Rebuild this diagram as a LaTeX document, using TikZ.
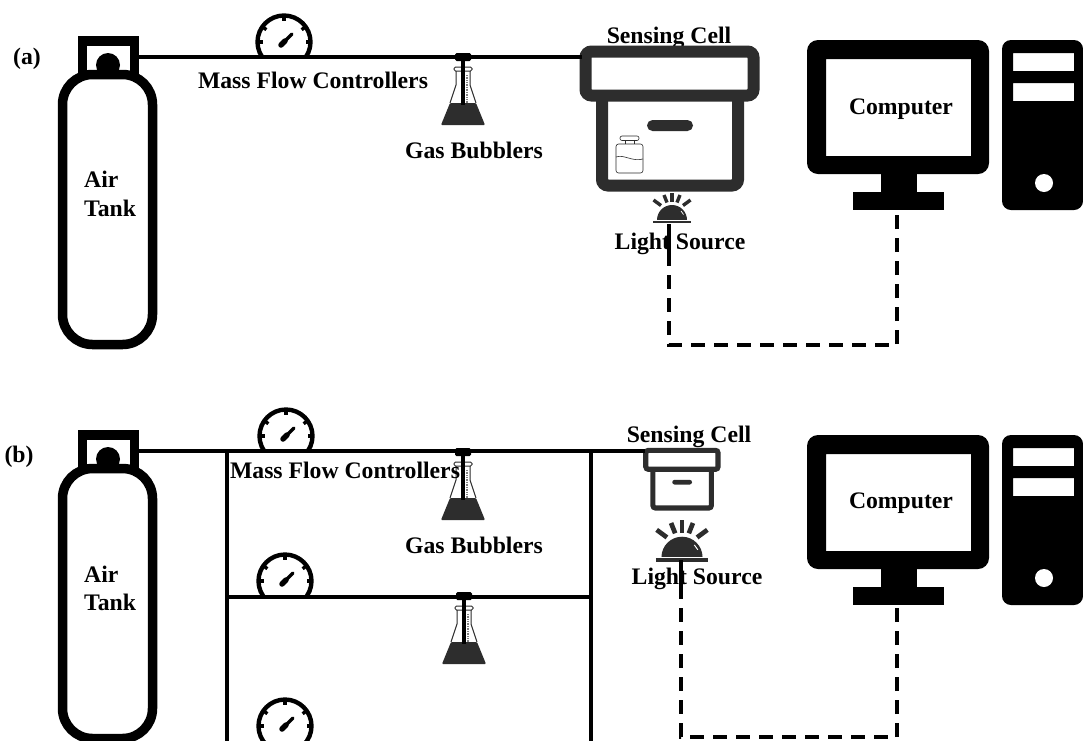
\documentclass[tikz,border=0pt]{standalone}
\usepackage{fontspec}
\setmainfont{Liberation Serif}
\definecolor{dk}{HTML}{2D2D2D}
\tikzset{
  lbl/.style={anchor=base,inner sep=0pt,font=\fontsize{23.7}{28}\selectfont\bfseries},
  pipe/.style={draw=black,line width=3.6pt},
  sig/.style={draw=black,line width=3.4pt,dash pattern=on 14pt off 9pt},
  sigsolid/.style={draw=black,line width=3.4pt}
}
% tank: origin = page position of panel
\newcommand{\tankicon}[2]{%
\begin{scope}[shift={(#1,#2)}]
  \draw[line width=9.5pt,rounded corners=30pt] (62.5,74.5) rectangle (152.5,344.5);
  \draw[line width=9.5pt] (82.5,74) -- (82.5,41) -- (134.5,41) -- (134.5,74);
  \begin{scope}
    \clip (80,40) rectangle (135,71);
    \fill (108,65) circle [radius=12];
  \end{scope}
\end{scope}}
% gauge: origin = dial centre
\newcommand{\gaugeicon}[2]{%
\begin{scope}[shift={(#1,#2)}]
  \begin{scope}
    \clip (-40,-40) rectangle (40,15);
    \draw[line width=4.4pt] (0,0) circle [radius=26.5];
  \end{scope}
  \foreach \a in {-180,-145,-90,-35,0}
    \draw[line width=3.4pt] (\a:27) -- (\a:21.5);
  \draw[line width=5.5pt,line cap=round] (-3,3) -- (1,-1);
  \draw[line width=3.4pt,line cap=round] (0,0) -- (8,-8);
\end{scope}}
% flask: origin = centre of stopper top
\newcommand{\flaskicon}[2]{%
\begin{scope}[shift={(#1,#2)}]
  \draw[dk,line width=1pt,rounded corners=1.5pt] (-9,14) -- (9,14) -- (9,18) -- (-9,18) -- cycle;
  \draw[dk,line width=1pt] (-7,18) -- (-7,32) -- (-13,50);
  \draw[dk,line width=1pt] (7,18) -- (7,32) -- (13,50);
  \fill[dk,rounded corners=1pt] (-13,50) -- (13,50) -- (22,72) -- (-22,72) -- cycle;
  \draw[gray,line width=1.4pt,dash pattern=on 1pt off .7pt] (4,22) -- (4,50);
  \fill[rounded corners=1.5pt] (-8,0) rectangle (8,8);
  \draw[line width=3.4pt] (0,8) -- (0,52);
\end{scope}}
% sensing cell: origin = lid outer top-left, third argument = scale
\newcommand{\cellicon}[3]{%
\begin{scope}[shift={(#1,#2)},x=#3pt,y=-#3pt]
  \draw[dk,line width=#3*12pt,rounded corners=#3*6pt] (23,50) -- (23,139.5) -- (159,139.5) -- (159,50);
  \draw[dk,line width=#3*12pt,rounded corners=#3*6pt] (6.5,5.5) rectangle (174.5,49.5);
  \fill[dk,rounded corners=#3*5.5pt] (68,74) rectangle (114,85);
\end{scope}}
\newcommand{\bottleicon}[2]{%
\begin{scope}[shift={(#1,#2)}]
  \draw[dk,line width=.6pt,rounded corners=2pt] (4,0) rectangle (23,4.5);
  \draw[dk,line width=.6pt] (9,4.5) -- (9,8) (18,4.5) -- (18,8);
  \draw[dk,line width=.6pt,rounded corners=2.5pt] (0,8) rectangle (27,37);
  \draw[dk,line width=.6pt] (0,21) .. controls (8,18) and (16,26) .. (27,23);
\end{scope}}
% lamp: origin = centre of base bar
\newcommand{\lampicon}[3]{%
\begin{scope}[shift={(#1,#2)},x=#3pt,y=-#3pt]
  \draw[dk,line width=#3*2.4pt] (-19,0) -- (19,0);
  \begin{scope}
    \clip (-20,-20) rectangle (20,-2.5);
    \fill[dk] (0,-2) circle [radius=15];
  \end{scope}
  \draw[white,line width=#3*.7pt] (9,-11) -- (11.5,-7.5);
  \foreach \p/\q in {{0,-29}/{0,-20},{-8,-27}/{-5,-19.5},{8,-27}/{5,-19.5},{-18.5,-22}/{-11,-16.5},{18.5,-22}/{11,-16.5}}
    \draw[dk,line width=#3*3.4pt] (\p) -- (\q);
\end{scope}}
% computer: origin = page position of panel
\newcommand{\pcicon}[2]{%
\begin{scope}[shift={(#1,#2)}]
  \fill[rounded corners=11pt,even odd rule] (807,40) rectangle (989,174)
     [sharp corners] (826,59) rectangle (971,156);
  \fill (881,170) rectangle (917,195);
  \fill (853,192) rectangle (944,210);
  \fill[rounded corners=9pt,even odd rule] (1002,40) rectangle (1083,210)
     [sharp corners] (1013,53) rectangle (1074,71) (1013,83) rectangle (1074,101);
  \fill[white] (1044,183) circle [radius=9];
\end{scope}}
\begin{document}
\begin{tikzpicture}[x=1pt,y=-1pt]
\useasboundingbox (0,0) rectangle (1083,740);
\clip (0,0) rectangle (1083,740);
\fill[white] (0,0) rectangle (1083,740);
% ---------- panel (a)
\coordinate (tankAout) at (139,57);
\coordinate (cellAin) at (582,57);
\coordinate (lampAbase) at (669,224);
\coordinate (sigAlow) at (669,345);
\coordinate (sigAturn) at (897,345);
\coordinate (pcAfoot) at (897,210);
\coordinate (sigAdash) at (669,252);
\node[lbl] (labA) at (27,64) {(a)};
\node[lbl] (scA) at (669,43) {Sensing Cell};
\node[lbl] (lsA) at (680,249) {Light Source};
\tankicon{0}{0}
\gaugeicon{284}{42}
\flaskicon{463}{53}
\cellicon{579}{46}{1}
\bottleicon{616}{136}
\lampicon{672}{222}{1}
\pcicon{0}{0}
\draw[pipe] (tankAout) -- (cellAin);
\draw[sigsolid] (lampAbase) -- (sigAdash);
\draw[sig] (sigAdash) -- (sigAlow) -- (sigAturn) -- (pcAfoot);
\node[lbl] (mfA) at (313,88) {Mass Flow Controllers};
\node[lbl] (gbA) at (474,158) {Gas Bubblers};
\node[lbl] (pcA) at (901,114) {Computer};
\node[lbl,anchor=base west] (airA) at (84,187) {Air};
\node[lbl,anchor=base west] (tkA) at (84,216) {Tank};
% ---------- panel (b)
\coordinate (tankBout) at (139,451);
\coordinate (cellBin) at (645,451);
\coordinate (brL) at (227,451);
\coordinate (brR) at (591,451);
\coordinate (brLm) at (227,597);
\coordinate (brRm) at (591,597);
\coordinate (brLb) at (227,741);
\coordinate (brRb) at (591,741);
\coordinate (lampBbase) at (681,560);
\coordinate (sigBdash) at (681,585);
\coordinate (sigBlow) at (681,737);
\coordinate (sigBturn) at (897,737);
\coordinate (pcBfoot) at (897,605);
\node[lbl] (labB) at (19,462) {(b)};
\node[lbl] (scB) at (689,442) {Sensing Cell};
\node[lbl] (lsB) at (697,584) {Light Source};
\tankicon{0}{394}
\gaugeicon{286}{436}
\gaugeicon{285}{581}
\gaugeicon{285}{726}
\flaskicon{463}{448}
\flaskicon{464}{592}
\cellicon{643}{448}{0.43}
\lampicon{682}{560}{1.37}
\pcicon{0}{395}
\draw[pipe] (tankBout) -- (cellBin);
\draw[pipe] (brL) -- (brLb);
\draw[pipe] (brR) -- (brRb);
\draw[pipe] (brLm) -- (brRm);
\draw[sigsolid] (lampBbase) -- (sigBdash);
\draw[sig] (sigBdash) -- (sigBlow) -- (sigBturn) -- (pcBfoot);
\node[lbl] (mfB) at (345,478) {Mass Flow Controllers};
\node[lbl] (gbB) at (474,553) {Gas Bubblers};
\node[lbl] (pcB) at (901,508) {Computer};
\node[lbl,anchor=base west] (airB) at (84,582) {Air};
\node[lbl,anchor=base west] (tkB) at (84,610) {Tank};
\end{tikzpicture}
\end{document}
